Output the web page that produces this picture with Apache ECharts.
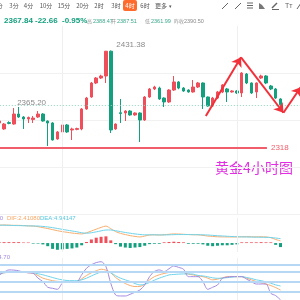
<!DOCTYPE html>
<html>
<head>
<meta charset="utf-8">
<script src="https://cdn.jsdelivr.net/npm/echarts@6/dist/echarts.min.js"></script>
<style>
html, body { margin: 0; padding: 0; background: #fff; }
#kChart { width: 300px; height: 300px; }
</style>
</head>
<body>
<div id="kChart"></div>
<script>
// 4 hour gold candles: [open, close, low, high]
const kline = [
    [2346.5, 2348.8, 2345.0, 2350.0],
    [2339.5, 2345.3, 2338.5, 2346.5],
    [2347.0, 2346.0, 2345.0, 2348.5],
    [2345.3, 2357.0, 2344.5, 2364.0],
    [2357.0, 2353.5, 2352.5, 2365.2],
    [2353.5, 2351.2, 2339.5, 2354.5],
    [2351.2, 2353.0, 2346.5, 2354.0],
    [2350.5, 2352.3, 2346.5, 2354.7],
    [2353.5, 2357.0, 2352.5, 2360.5],
    [2357.0, 2348.8, 2348.0, 2358.0],
    [2348.8, 2346.5, 2319.6, 2349.5],
    [2346.5, 2326.6, 2326.0, 2347.5],
    [2327.8, 2336.0, 2327.0, 2337.0],
    [2336.0, 2344.2, 2335.0, 2345.0],
    [2344.2, 2336.0, 2335.0, 2345.3],
    [2338.3, 2339.5, 2326.6, 2341.0],
    [2339.0, 2340.0, 2338.0, 2341.0],
    [2339.5, 2362.9, 2338.0, 2364.0],
    [2362.9, 2375.7, 2362.0, 2377.0],
    [2376.9, 2393.3, 2376.0, 2394.5],
    [2393.3, 2399.1, 2392.0, 2400.3],
    [2399.1, 2401.5, 2398.0, 2403.0],
    [2401.5, 2430.5, 2393.3, 2430.8],
    [2430.5, 2338.3, 2334.8, 2431.38],
    [2339.5, 2345.3, 2338.5, 2346.0],
    [2358.5, 2357.5, 2346.5, 2374.6],
    [2358.2, 2360.5, 2348.8, 2361.5],
    [2360.5, 2355.9, 2355.0, 2361.5],
    [2355.9, 2358.2, 2355.0, 2359.0],
    [2358.2, 2350.0, 2324.3, 2359.0],
    [2350.0, 2376.9, 2349.0, 2378.0],
    [2376.9, 2386.3, 2376.0, 2387.5],
    [2386.3, 2388.6, 2385.0, 2390.0],
    [2387.4, 2374.6, 2373.5, 2389.0],
    [2375.7, 2371.1, 2365.2, 2376.5],
    [2371.1, 2385.1, 2370.0, 2386.0],
    [2385.1, 2394.5, 2384.0, 2401.5],
    [2394.5, 2387.4, 2386.0, 2395.5],
    [2387.4, 2383.9, 2383.0, 2388.5],
    [2385.1, 2382.8, 2382.0, 2386.0],
    [2382.8, 2388.6, 2382.0, 2396.8],
    [2388.6, 2393.3, 2387.5, 2394.5],
    [2393.3, 2376.9, 2362.9, 2394.0],
    [2376.9, 2366.4, 2365.5, 2377.5],
    [2366.4, 2375.7, 2365.5, 2377.0],
    [2375.7, 2382.8, 2374.5, 2384.0],
    [2382.8, 2391.0, 2381.5, 2392.0],
    [2386.3, 2382.8, 2371.1, 2387.5],
    [2382.8, 2384.0, 2382.0, 2385.0],
    [2384.0, 2381.6, 2380.5, 2385.0],
    [2381.6, 2405.0, 2376.9, 2406.0],
    [2403.8, 2393.3, 2392.0, 2405.0],
    [2393.3, 2381.6, 2380.5, 2394.0],
    [2382.8, 2393.3, 2375.7, 2394.0],
    [2399.1, 2401.5, 2398.0, 2403.0],
    [2401.5, 2393.3, 2392.0, 2402.5],
    [2389.8, 2386.3, 2385.0, 2391.0],
    [2386.3, 2375.7, 2374.5, 2387.5],
    [2374.6, 2367.84, 2366.5, 2375.5]
];

const macdHist = [1, 1, 1, 1, 1, 0.6, 0.6, -0.6, -0.6, -1.5, -3.5, -6.5, -7.5, -7, -6.5, -6, -5, -2.5, 1.2, 4, 6, 7, 7.5, 3, -1.2, -4, -5, -5.5, -5, -4.5, -3, -1.2, -0.8, -0.8, 0.8, 1.2, 1.5, 1.2, 0.8, -0.8, -0.8, -0.8, -1.5, -3, -3.5, -3, -2.5, -2.5, -2, -1.5, 0.8, 0.8, 0.8, 0.8, 1, 0.8, 0.8, -2, -4.5];
const dif = [20, 20.2, 20, 19.8, 19.8, 19.5, 19.2, 19, 18.3, 17.2, 16.2, 15, 13.8, 12.8, 12, 11.2, 10.6, 10.2, 11.5, 13.5, 15.5, 17.5, 19, 16, 12.8, 10.8, 9.5, 8.3, 7.4, 6.8, 7.8, 9, 9.2, 9, 9.3, 9.8, 10.2, 10.1, 9.8, 9.5, 9.3, 9.2, 8.6, 7.8, 7.4, 7, 6.9, 6.8, 6.8, 6.8, 7, 7.1, 7, 6.9, 7, 6.8, 6, 4, 2.41];
const dea = [20, 19.9, 19.8, 19.6, 19.5, 19.4, 19.2, 19.1, 19, 18.6, 18, 17.2, 16.3, 15.3, 14.4, 13.5, 12.6, 11.5, 11, 11.5, 12.5, 13.6, 14.6, 14.6, 13.8, 12.8, 11.8, 11, 10.2, 9.6, 9.2, 9.2, 9.2, 9.1, 9.1, 9.2, 9.4, 9.5, 9.5, 9.5, 9.4, 9.3, 9.2, 9, 8.6, 8.2, 7.9, 7.6, 7.3, 7.1, 6.9, 6.8, 6.7, 6.6, 6.5, 6.4, 6.2, 5.6, 4.94];

const kLine = [74, 76, 78, 79.6, 79, 78, 76, 74.6, 68, 60, 56, 52.5, 50.5, 50, 49.6, 49.6, 50, 58, 68, 76, 82, 86.6, 84, 76, 62, 52, 44, 38, 35, 35.5, 42, 55, 64.5, 70, 74, 77, 79.6, 79, 77, 72, 69.6, 66, 64.5, 60, 55, 57, 61, 64.5, 65, 64.5, 64.5, 60, 55, 50, 46, 42.6, 38, 32, 24.8];
const dLine = [74.6, 76, 77.5, 78.5, 79.6, 79.6, 78, 76, 73, 70, 66, 62, 58, 55, 53, 52.5, 52.5, 55, 60, 66.6, 73, 78, 79.6, 76, 67, 60, 55, 50, 44, 39.6, 42, 47, 54, 60, 65, 69.6, 71, 72, 72.6, 72.6, 72, 68, 66.6, 64, 61, 59.6, 60, 61.5, 63, 64.5, 64.5, 62, 59, 55, 52.5, 49, 45, 40, 36.7];
const jLine = [69, 78, 84.5, 84, 82, 78, 76, 74.6, 60, 49.6, 33, 29.8, 26.8, 44.8, 49.6, 49.6, 49.6, 70, 89.6, 100, 106.3, 109, 94.6, 44.8, 9.9, 7, 7, 12, 18, 24.8, 40, 64.5, 80, 84.5, 79.6, 88, 96.4, 92, 86.6, 64.5, 64.5, 64.5, 49.6, 26.8, 33, 39.6, 59.6, 63, 64.5, 64.5, 64.5, 57, 49.6, 42.6, 42.6, 42.6, 15, 8, -4.7];

const tabs = ['1分', '3分', '4分', '10分', '15分', '20分', '2时', '3时', '4时', '6时', '更多'];
const activeTab = 8;
const lastPrice = 2367.84;
const change = '-22.66';
const changePct = '-0.95%';
const quoteLabels = ['高', '开', '低', '昨收'];
const quoteValues = ['2388.47', '2387.51', '2361.99', '2390.50'];
const supportLevel = 2318;
const highMark = [23, 2431.38];
const localHighMark = [4, 2365.2];
// hand drawn zigzag arrow, [slot, price]
const arrowPath = [[42.6, 2354.7], [49.85, 2423.4], [58.6, 2358.5], [62.2, 2388.6]];
const dividers = [13, 49];
const kdjLevels = [100, 80, 50, 20];

const SLOTS = 63;
const UP = '#ef4f5b';
const DOWN = '#14a07e';
const FONT = 'Liberation Sans, "Noto Sans CJK SC", sans-serif';
const CJK = '"Noto Sans CJK SC", sans-serif';

const cats = Array.from({ length: SLOTS }, (_, i) => String(i));
const pad = (arr) => arr.concat(Array(SLOTS - arr.length).fill('-'));

const gridLeft = -3.2;
const gridWidth = SLOTS * 4.85;

const hiddenCat = (gridIndex) => ({
    type: 'category', gridIndex, data: cats, boundaryGap: true,
    axisLine: { show: false }, axisTick: { show: false }, axisLabel: { show: false }, splitLine: { show: false }
});
const hiddenVal = (gridIndex, min, max) => ({
    type: 'value', gridIndex, min, max, scale: true,
    axisLine: { show: false }, axisTick: { show: false }, axisLabel: { show: false }, splitLine: { show: false }
});
const dividerLines = dividers.map(d => ({ xAxis: d, lineStyle: { color: '#efefef', width: 1, type: 'solid' } }));

const chart = echarts.init(document.getElementById('kChart'));

const graphics = [];
tabs.forEach((t, i) => {
    const cx = [-2, 14, 28.5, 46, 64, 82.5, 99, 116, 130, 145, 161][i];
    if (i === activeTab) {
        graphics.push({ type: 'rect', shape: { x: 123, y: 0, width: 14, height: 11, r: 2 }, style: { fill: '#ff6b2c' } });
    }
    graphics.push({
        type: 'text',
        style: { x: cx, y: 6, text: t, font: '6px ' + CJK, fill: i === activeTab ? '#fff' : '#555', textAlign: 'center', textVerticalAlign: 'middle' }
    });
});
graphics.push({ type: 'text', style: { x: 170, y: 6, text: '▾', font: '5px ' + CJK, fill: '#555', textAlign: 'center', textVerticalAlign: 'middle' } });

// toolbar icons
const ICON = { stroke: '#666', lineWidth: 1 };
graphics.push(
    { type: 'line', shape: { x1: 222, y1: 9, x2: 228, y2: 3 }, style: ICON },
    { type: 'line', shape: { x1: 235, y1: 9, x2: 241, y2: 3 }, style: ICON },
    { type: 'line', shape: { x1: 247, y1: 3, x2: 253, y2: 3 }, style: ICON },
    { type: 'line', shape: { x1: 247, y1: 5.5, x2: 253, y2: 5.5 }, style: ICON },
    { type: 'line', shape: { x1: 247, y1: 8, x2: 253, y2: 8 }, style: ICON },
    { type: 'polygon', shape: { points: [[259, 9], [259, 3], [262, 5], [265, 9]] }, style: { fill: '#777' } },
    { type: 'line', shape: { x1: 272, y1: 8, x2: 277, y2: 3 }, style: { stroke: '#666', lineWidth: 1.5 } },
    { type: 'line', shape: { x1: 272, y1: 9.5, x2: 279, y2: 9.5 }, style: ICON },
    { type: 'text', style: { x: 285, y: 6, text: 'Tт', font: '7px ' + FONT, fill: '#666', textVerticalAlign: 'middle' } },
    { type: 'line', shape: { x1: 297, y1: 9, x2: 301, y2: 3 }, style: ICON }
);

// quote row
graphics.push(
    { type: 'text', style: { x: 4, y: 21, text: lastPrice.toFixed(2), font: 'bold 8px ' + FONT, fill: DOWN, textVerticalAlign: 'middle' } },
    { type: 'text', style: { x: 35, y: 21, text: change, font: 'bold 8px ' + FONT, fill: DOWN, textVerticalAlign: 'middle' } },
    { type: 'text', style: { x: 62, y: 21, text: changePct, font: 'bold 8px ' + FONT, fill: DOWN, textVerticalAlign: 'middle' } }
);
const qLabelX = [87, 111, 145, 174];
const qValueX = [93, 117, 151, 184];
quoteLabels.forEach((l, i) => {
    graphics.push(
        { type: 'text', style: { x: qLabelX[i], y: 21, text: l, font: '5px ' + CJK, fill: '#999', textVerticalAlign: 'middle' } },
        { type: 'text', style: { x: qValueX[i], y: 21, text: quoteValues[i], font: '5.5px ' + FONT, fill: i === 3 ? '#888' : '#3aa88a', textVerticalAlign: 'middle' } }
    );
});

// indicator captions
graphics.push(
    { type: 'text', style: { x: 3, y: 218, text: 'MACD:' + (2 * (dif[dif.length - 1] - dea[dea.length - 1])).toFixed(5), font: '6px ' + FONT, fill: '#a58be0', textAlign: 'right', textVerticalAlign: 'middle' } },
    { type: 'text', style: { x: 7, y: 218, text: 'DIF:2.41080', font: '6px ' + FONT, fill: '#f5a766', textVerticalAlign: 'middle' } },
    { type: 'text', style: { x: 40, y: 218, text: 'DEA:4.94147', font: '6px ' + FONT, fill: '#55c8e0', textVerticalAlign: 'middle' } },
    { type: 'text', style: { x: 10, y: 257, text: 'J:' + jLine[jLine.length - 1].toFixed(2), font: '6px ' + FONT, fill: '#a58be0', textAlign: 'right', textVerticalAlign: 'middle' } },
    { type: 'text', style: { x: 254, y: 168, text: '黄金4小时图', font: '14px ' + CJK, fill: '#e22ee2', textAlign: 'center', textVerticalAlign: 'middle' } }
);

const arrowSegments = [];
for (let i = 0; i < arrowPath.length - 1; i++) {
    arrowSegments.push([{ coord: arrowPath[i] }, { coord: arrowPath[i + 1] }]);
}

chart.setOption({
    animation: false,
    backgroundColor: '#fff',
    grid: [
        { left: gridLeft, width: gridWidth, top: 26, height: 188, outerBoundsMode: 'none' },
        { left: gridLeft, width: gridWidth, top: 218, height: 34, outerBoundsMode: 'none' },
        { left: gridLeft, width: gridWidth, top: 258, height: 42, outerBoundsMode: 'none' }
    ],
    xAxis: [hiddenCat(0), hiddenVal(0, -0.5, SLOTS - 0.5), hiddenCat(1), hiddenCat(2)],
    yAxis: [
        {
            type: 'value', gridIndex: 0, min: 2240, max: 2460, interval: 55,
            axisLine: { show: false }, axisTick: { show: false }, axisLabel: { show: false },
            splitLine: { show: true, showMaxLine: false, lineStyle: { color: '#f1f1f1', width: 1 } }
        },
        hiddenVal(1, -10, 28),
        hiddenVal(2, -5, 120)
    ],
    graphic: graphics,
    series: [
        {
            type: 'candlestick', xAxisIndex: 0, yAxisIndex: 0,
            data: pad(kline), barWidth: 3,
            itemStyle: { color: UP, color0: DOWN, borderColor: UP, borderColor0: DOWN, borderWidth: 1 },
            markLine: {
                silent: true, symbol: 'none', label: { show: false },
                data: [
                    ...dividerLines,
                    { yAxis: lastPrice, lineStyle: { color: '#8fd6c2', width: 1, type: [1, 2] } }
                ]
            },
            markPoint: {
                silent: true, symbol: 'circle', symbolSize: 1,
                itemStyle: { color: 'rgba(0,0,0,0)' },
                label: { show: true, position: 'right', color: '#8a8a8a', fontSize: 8, fontFamily: FONT },
                data: [
                    { coord: highMark, label: { formatter: highMark[1].toFixed(2), offset: [0, -5.5] } },
                    { coord: localHighMark, label: { formatter: localHighMark[1].toFixed(2), offset: [-7, -4] } }
                ]
            }
        },
        {
            type: 'line', xAxisIndex: 1, yAxisIndex: 0, data: [], z: 5,
            markLine: {
                silent: true, symbol: ['none', 'arrow'], symbolSize: 9,
                label: { show: false },
                lineStyle: { color: '#f2303a', width: 2, type: 'solid' },
                data: [
                    ...arrowSegments,
                    [
                        { coord: [-0.5, supportLevel], symbol: 'none' },
                        {
                            coord: [55.2, supportLevel], symbol: 'none',
                            lineStyle: { color: '#f25d6b', width: 2 },
                            label: { show: true, position: 'end', distance: 4, formatter: String(supportLevel), color: '#f25d6b', fontSize: 8, fontFamily: FONT }
                        }
                    ]
                ]
            }
        },
        {
            type: 'bar', xAxisIndex: 2, yAxisIndex: 1, data: pad(macdHist), barWidth: 3,
            itemStyle: { color: (p) => p.value >= 0 ? UP : DOWN },
            markLine: { silent: true, symbol: 'none', label: { show: false }, data: dividerLines }
        },
        {
            type: 'line', xAxisIndex: 2, yAxisIndex: 1, data: pad(dif), symbol: 'none', smooth: 0.3,
            lineStyle: { color: '#f7ae70', width: 1 }
        },
        {
            type: 'line', xAxisIndex: 2, yAxisIndex: 1, data: pad(dea), symbol: 'none', smooth: 0.3,
            lineStyle: { color: '#6fd3ea', width: 1 }
        },
        {
            type: 'line', xAxisIndex: 3, yAxisIndex: 2, data: pad(kLine), symbol: 'none', smooth: 0.3,
            lineStyle: { color: '#f7ae70', width: 1 },
            markLine: {
                silent: true, symbol: 'none', label: { show: false },
                data: [
                    ...dividerLines,
                    ...kdjLevels.map(v => ({ yAxis: v, lineStyle: { color: '#b6d8f5', width: 2, type: 'solid' } }))
                ]
            }
        },
        {
            type: 'line', xAxisIndex: 3, yAxisIndex: 2, data: pad(dLine), symbol: 'none', smooth: 0.3,
            lineStyle: { color: '#6fd3ea', width: 1 }
        },
        {
            type: 'line', xAxisIndex: 3, yAxisIndex: 2, data: pad(jLine), symbol: 'none', smooth: 0.3,
            lineStyle: { color: '#a58be0', width: 1 }
        }
    ]
});
</script>
</body>
</html>
